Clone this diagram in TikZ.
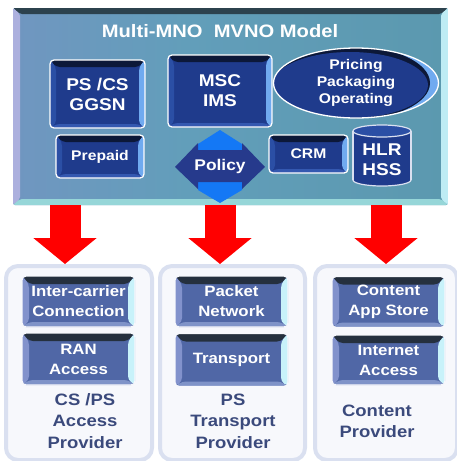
\documentclass[tikz,border=0pt]{standalone}
\usepackage{fontspec}
\setmainfont{Liberation Sans}[FakeStretch=1.12]
\usetikzlibrary{arrows.meta,shapes.geometric}

\definecolor{panelLeft}{RGB}{130,140,200}
\definecolor{panelMid}{RGB}{98,158,186}
\definecolor{panelMidR}{RGB}{88,150,170}
\definecolor{panelRight}{RGB}{62,96,116}
\definecolor{panelTop}{RGB}{44,66,78}
\definecolor{panelSideL}{RGB}{172,176,222}
\definecolor{panelSideR}{RGB}{190,236,244}
\definecolor{panelBot}{RGB}{150,214,216}
\definecolor{mnoFace}{RGB}{31,59,140}
\definecolor{mnoTop}{RGB}{12,24,56}
\definecolor{mnoRight}{RGB}{112,170,240}
\definecolor{mnoLeft}{RGB}{43,79,165}
\definecolor{mnoBottom}{RGB}{52,88,176}
\definecolor{provFace}{RGB}{80,103,166}
\definecolor{provTop}{RGB}{37,48,62}
\definecolor{provRight}{RGB}{200,242,250}
\definecolor{provLeft}{RGB}{130,146,204}
\definecolor{provBottom}{RGB}{127,147,200}
\definecolor{provFill}{RGB}{247,248,252}
\definecolor{provEdge}{RGB}{218,224,240}
\definecolor{provText}{RGB}{59,74,124}
\definecolor{policyBlue}{RGB}{20,120,245}
\definecolor{policyNavy}{RGB}{38,58,140}
\definecolor{arrowRed}{RGB}{255,0,0}

\pgfdeclarehorizontalshading{mvnoshade}{100bp}{color(0bp)=(panelLeft); color(45bp)=(panelMid);
  color(88bp)=(panelMidR); color(100bp)=(panelRight)}

% top, right, left, bottom faces; top depth, side depth, bottom depth
\newcommand\bevelfaces[7]{%
  \fill[#1] (path picture bounding box.north west) -- (path picture bounding box.north east)
    -- ([shift={(-#6,-#5)}]path picture bounding box.north east) -- ([shift={(#6,-#5)}]path picture bounding box.north west) -- cycle;
  \fill[#2] (path picture bounding box.north east) -- (path picture bounding box.south east)
    -- ([shift={(-#6,#7)}]path picture bounding box.south east) -- ([shift={(-#6,-#5)}]path picture bounding box.north east) -- cycle;
  \fill[#3] (path picture bounding box.north west) -- (path picture bounding box.south west)
    -- ([shift={(#6,#7)}]path picture bounding box.south west) -- ([shift={(#6,-#5)}]path picture bounding box.north west) -- cycle;
  \fill[#4] (path picture bounding box.south west) -- (path picture bounding box.south east)
    -- ([shift={(-#6,#7)}]path picture bounding box.south east) -- ([shift={(#6,#7)}]path picture bounding box.south west) -- cycle;
}

\tikzset{
  mvno panel/.style={rounded corners=2pt, shading=mvnoshade,
    inner sep=0pt, path picture={\bevelfaces{panelTop}{panelSideR}{panelSideL}{panelBot}{6pt}{7pt}{6pt}}},
  mno box/.style={draw=white, line width=1.3pt, rounded corners=4pt, fill=mnoFace, text=white,
    font=\bfseries\fontsize{17}{20}\selectfont, align=center, inner sep=0pt,
    path picture={\bevelfaces{mnoTop}{mnoRight}{mnoLeft}{mnoBottom}{7pt}{6pt}{4pt}}},
  small text/.style={font=\bfseries\fontsize{14}{17}\selectfont},
  prov panel/.style={rounded corners=12pt, fill=provFill, draw=provEdge, line width=4pt},
  prov box/.style={draw=provFill, line width=1.3pt, rounded corners=4pt, fill=provFace, text=white,
    font=\bfseries\fontsize{15}{20}\selectfont, align=center, inner sep=0pt,
    minimum width=113pt, minimum height=51pt,
    path picture={\bevelfaces{provTop}{provRight}{provLeft}{provBottom}{8pt}{7pt}{5pt}}},
  prov label/.style={text=provText, font=\bfseries\fontsize{16.5}{21.5}\selectfont, align=center},
  red arrow/.style={draw=arrowRed, line width=31pt, -{Triangle[width=62pt,length=26pt]}},
}

\begin{document}
\begin{tikzpicture}[x=1pt,y=-1pt]
\useasboundingbox (0,0) rectangle (456,461);

% MVNO panel
\node[mvno panel, minimum width=435pt, minimum height=197pt] (mvno) at (230.5,106.5) {};
\node[text=white, font=\bfseries\fontsize{18}{22}\selectfont] (title) at (220,31) {Multi-MNO~~MVNO Model};

\node[mno box, minimum width=95pt, minimum height=68pt] (ggsn) at (97.5,94) {PS /CS\\GGSN};
\node[mno box, small text, minimum width=88pt, minimum height=43pt] (prepaid) at (100,156.5) {Prepaid};
\node[mno box, minimum width=104pt, minimum height=72pt] (msc) at (220,91) {MSC\\IMS};
\node[mno box, small text, minimum width=79pt, minimum height=38pt] (crm) at (308.5,154) {CRM};
\node[ellipse, draw=white, line width=1.3pt, fill=mnoFace, text=white, align=center, inner sep=0pt,
  font=\bfseries\fontsize{14}{17}\selectfont, minimum width=165pt, minimum height=70pt,
  path picture={
    \fill[mnoRight] (path picture bounding box.south west) rectangle (path picture bounding box.north east);
    \fill[mnoTop] ([xshift=-6pt]path picture bounding box.center) ellipse [x radius=80pt, y radius=37pt];
    \fill[mnoFace] ([shift={(-6pt,-2pt)}]path picture bounding box.center) ellipse [x radius=78pt, y radius=33pt];
  }] (pricing) at (356,83) {Pricing\\Packaging\\Operating};

% policy
\fill[policyBlue] (220,130) -- (242,144) -- (242,190) -- (220,203) -- (198,190) -- (198,144) -- cycle;
\fill[policyNavy] (175,167) -- (198,143) -- (198,150) -- (242,150) -- (242,143) -- (265,167)
  -- (242,189) -- (242,182) -- (198,182) -- (198,189) -- cycle;
\node[text=white, font=\bfseries\fontsize{15.5}{18}\selectfont] (policy) at (220,166) {Policy};

% HLR / HSS
\fill[mnoFace, draw=provEdge, line width=1.2pt] (382,180) ellipse [x radius=29, y radius=6];
\fill[mnoFace] (353,131) rectangle (411,180);
\draw[provEdge, line width=1.2pt] (353,131) -- (353,180) (411,131) -- (411,180);
\fill[mnoLeft, draw=provEdge, line width=1.2pt] (382,131) ellipse [x radius=29, y radius=6];
\node[text=white, align=center, font=\bfseries\fontsize{17}{20}\selectfont] (hlr) at (382,160) {HLR\\HSS};

% provider panels
\node[prov panel, minimum width=146pt, minimum height=194pt] (accpanel) at (79,363) {};
\node[prov panel, minimum width=145pt, minimum height=194pt] (trppanel) at (232.5,363) {};
\node[prov panel, minimum width=142pt, minimum height=194pt] (cntpanel) at (386,363) {};

\node[prov box] (icc) at (78.5,301.5) {Inter-carrier\\Connection};
\node[prov box, minimum height=52pt] (ran) at (78.5,359) {RAN\\Access};
\node[prov box] (pkt) at (231.5,301.5) {Packet\\Network};
\node[prov box, minimum height=53pt] (trp) at (231.5,360) {Transport};
\node[prov box] (cas) at (388.5,302) {Content\\App Store};
\node[prov box, minimum height=50pt] (ina) at (388.5,360) {Internet\\Access};

\node[prov label] (acclbl) at (85,421) {CS /PS\\Access\\Provider};
\node[prov label] (trplbl) at (233,421) {PS\\Transport\\Provider};
\node[prov label] (cntlbl) at (377,421.5) {Content\\Provider};

% red arrows
\coordinate (accArr) at (65,205);
\coordinate (trpArr) at (220,205);
\coordinate (cntArr) at (386,205);
\draw[red arrow] (accArr) -- (accArr |- accpanel.north);
\draw[red arrow] (trpArr) -- (trpArr |- trppanel.north);
\draw[red arrow] (cntArr) -- (cntArr |- cntpanel.north);
\end{tikzpicture}
\end{document}
